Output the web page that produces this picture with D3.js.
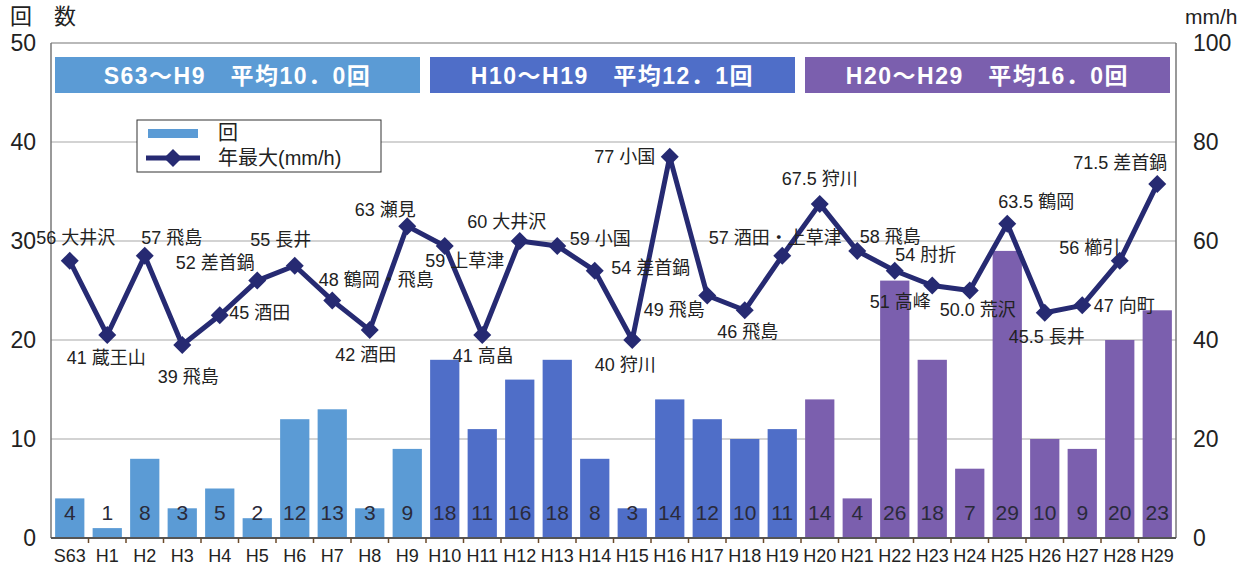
<!DOCTYPE html>
<html>
<head>
<meta charset="utf-8">
<script src="https://cdn.jsdelivr.net/npm/d3@7"></script>
<style>
  body { margin: 0; background: #fff; }
  svg text { font-family: "Liberation Sans", "Noto Sans CJK JP", sans-serif; }
</style>
</head>
<body>
<div id="chart"></div>
<script>
// data
var years = ['S63','H1','H2','H3','H4','H5','H6','H7','H8','H9',
             'H10','H11','H12','H13','H14','H15','H16','H17','H18','H19',
             'H20','H21','H22','H23','H24','H25','H26','H27','H28','H29']
var counts = [4,1,8,3,5,2,12,13,3,9, 18,11,16,18,8,3,14,12,10,11, 14,4,26,18,7,29,10,9,20,23]
var maxRain = [56,41,57,39,45,52,55,48,42,63, 59,41,60,59,54,40,77,49,46,57, 67.5,58,54,51,50.0,63.5,45.5,47,56,71.5]
var places = ['大井沢','蔵王山','飛島','飛島','酒田','差首鍋','長井','鶴岡・飛島','酒田','瀬見',
              '上草津','高畠','大井沢','小国','差首鍋','狩川','小国','飛島','飛島','酒田・上草津',
              '狩川','飛島','肘折','高峰','荒沢','鶴岡','長井','向町','櫛引','差首鍋']
var periods = [
  {from: 'S63', to: 'H9',  text: 'S63～H9　平均10．0回'},
  {from: 'H10', to: 'H19', text: 'H10～H19　平均12．1回'},
  {from: 'H20', to: 'H29', text: 'H20～H29　平均16．0回'}
]
var periodColors = ['#5b9bd5', '#4f6ec8', '#7b5fae']
var leftTicks = [0,10,20,30,40,50]
var rightTicks = [0,20,40,60,80,100]

// label placement around each point [dx, dy]
var labelOffsets = [[6,-23],[-1,22],[27,-18],[6,32],[40,-3],[-42,-18],[-14,-26],[44,-21],[-4,24],[-22,-17],
                    [20,15],[1,20],[-13,-19],[43,-7],[56,-3],[-7,25],[-45,0],[-33,14],[3,21],[-7,-18],
                    [0,-25],[33,-14],[31,-16],[-32,16],[8,19],[29,-22],[2,24],[42,0],[-30,-13],[-37,-22]]

var W = 1245, H = 573
var m = {left: 51, right: 69, top: 43, bottom: 35}

var svg = d3.select('#chart').append('svg').attr('width', W).attr('height', H)

var x = d3.scaleBand().domain(years).range([m.left, W - m.right]).paddingInner(0.22).paddingOuter(0.11)
var xb = d3.scaleBand().domain(years).range([m.left, W - m.right])
var yL = d3.scaleLinear().domain([0, 50]).range([H - m.bottom, m.top])
var yR = d3.scaleLinear().domain([0, 100]).range([H - m.bottom, m.top])

var colorOf = function(i){ return i < 10 ? periodColors[0] : (i < 20 ? periodColors[1] : periodColors[2]) }

// grid
svg.append('g').selectAll('line').data(leftTicks.slice(1)).join('line')
  .attr('x1', m.left).attr('x2', W - m.right)
  .attr('y1', d => yL(d)).attr('y2', d => yL(d))
  .attr('stroke', '#c4c4c4').attr('stroke-width', 1.5)

// period headers
periods.forEach(function(p, i){
  var x0 = xb(p.from) + 4, x1 = xb(p.to) + xb.bandwidth() - 6
  svg.append('rect').attr('x', x0).attr('y', 57).attr('width', x1 - x0).attr('height', 36)
    .attr('fill', periodColors[i])
  svg.append('text').attr('x', (x0 + x1) / 2).attr('y', 76).attr('dy', '0.36em')
    .attr('text-anchor', 'middle').attr('fill', '#fff').attr('font-size', 23).attr('font-weight', 'bold')
    .attr('letter-spacing', 1.5)
    .text(p.text)
})

// bars
svg.append('g').selectAll('rect').data(counts).join('rect')
  .attr('x', (d, i) => x(years[i])).attr('width', x.bandwidth())
  .attr('y', d => yL(d)).attr('height', d => yL(0) - yL(d))
  .attr('fill', (d, i) => colorOf(i))

svg.append('g').selectAll('text').data(counts).join('text')
  .attr('x', (d, i) => xb(years[i]) + xb.bandwidth() / 2).attr('y', yL(0) - 26)
  .attr('dy', '0.36em').attr('text-anchor', 'middle')
  .attr('font-size', 21).attr('fill', '#2a2a3a')
  .text(d => d)

// axes lines
svg.append('line').attr('x1', m.left).attr('x2', W - m.right).attr('y1', m.top).attr('y2', m.top)
  .attr('stroke', '#b0b0b0').attr('stroke-width', 1.5)
svg.append('line').attr('x1', m.left).attr('x2', m.left).attr('y1', m.top).attr('y2', yL(0))
  .attr('stroke', '#777').attr('stroke-width', 1.5)
svg.append('line').attr('x1', W - m.right).attr('x2', W - m.right).attr('y1', m.top).attr('y2', yL(0))
  .attr('stroke', '#777').attr('stroke-width', 1.5)
svg.append('line').attr('x1', m.left).attr('x2', W - m.right).attr('y1', yL(0)).attr('y2', yL(0))
  .attr('stroke', '#555').attr('stroke-width', 2)
svg.append('g').selectAll('line').data(years.slice(1)).join('line')
  .attr('x1', d => xb(d)).attr('x2', d => xb(d))
  .attr('y1', yL(0)).attr('y2', yL(0) + 5)
  .attr('stroke', '#6b4a2a').attr('stroke-width', 1.5)

// tick labels
svg.append('g').selectAll('text').data(leftTicks).join('text')
  .attr('x', 36).attr('y', d => yL(d)).attr('dy', '0.36em').attr('text-anchor', 'end')
  .attr('font-size', 23).attr('fill', '#222').text(d => d)
svg.append('g').selectAll('text').data(rightTicks).join('text')
  .attr('x', 1193).attr('y', d => yR(d)).attr('dy', '0.36em').attr('text-anchor', 'start')
  .attr('font-size', 23).attr('fill', '#222').text(d => d)
svg.append('g').selectAll('text').data(years).join('text')
  .attr('x', d => xb(d) + xb.bandwidth() / 2).attr('y', 556).attr('dy', '0.36em')
  .attr('text-anchor', 'middle').attr('font-size', 18).attr('fill', '#222').text(d => d)

svg.append('text').attr('x', 10).attr('y', 16).attr('dy', '0.36em').attr('font-size', 22)
  .attr('fill', '#222').text('回　数')
svg.append('text').attr('x', 1185).attr('y', 16).attr('dy', '0.36em').attr('font-size', 21)
  .attr('fill', '#222').text('mm/h')

// line
var lineColor = '#262a72'
var line = d3.line().x((d, i) => xb(years[i]) + xb.bandwidth() / 2).y(d => yR(d))
svg.append('path').datum(maxRain).attr('d', line)
  .attr('fill', 'none').attr('stroke', lineColor).attr('stroke-width', 5).attr('stroke-linejoin', 'round')

var diamond = 'M0,-9L9,0L0,9L-9,0Z'
svg.append('g').selectAll('path').data(maxRain).join('path')
  .attr('d', diamond)
  .attr('transform', (d, i) => 'translate(' + (xb(years[i]) + xb.bandwidth() / 2) + ',' + yR(d) + ')')
  .attr('fill', lineColor)

// point labels
svg.append('g').selectAll('text').data(maxRain).join('text')
  .attr('x', (d, i) => xb(years[i]) + xb.bandwidth() / 2 + labelOffsets[i][0])
  .attr('y', (d, i) => yR(d) + labelOffsets[i][1]).attr('dy', '0.36em')
  .attr('text-anchor', 'middle').attr('font-size', 18).attr('fill', '#222')
  .text((d, i) => (i == 24 ? d.toFixed(1) : d) + ' ' + places[i])

// legend
var lg = svg.append('g')
lg.append('rect').attr('x', 137).attr('y', 120).attr('width', 244).attr('height', 52)
  .attr('fill', '#fff').attr('stroke', '#333').attr('stroke-width', 1)
lg.append('rect').attr('x', 148).attr('y', 129).attr('width', 50).attr('height', 9).attr('fill', periodColors[0])
lg.append('text').attr('x', 218).attr('y', 133).attr('dy', '0.36em').attr('font-size', 20).attr('fill', '#222').text('回')
lg.append('line').attr('x1', 146).attr('x2', 200).attr('y1', 158).attr('y2', 158)
  .attr('stroke', lineColor).attr('stroke-width', 5)
lg.append('path').attr('d', diamond).attr('transform', 'translate(173,158)').attr('fill', lineColor)
lg.append('text').attr('x', 218).attr('y', 158).attr('dy', '0.36em').attr('font-size', 20).attr('fill', '#222').text('年最大(mm/h)')
</script>
</body>
</html>
